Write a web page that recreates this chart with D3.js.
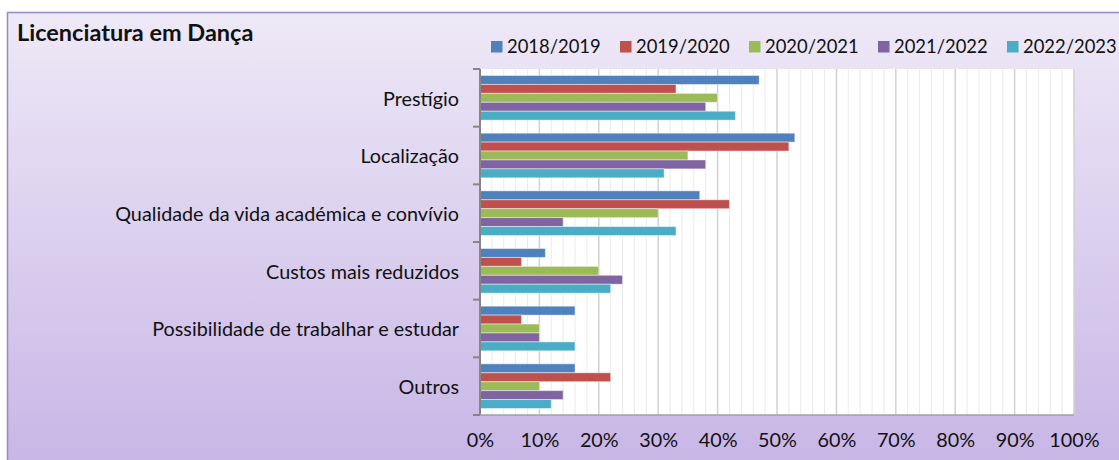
<!DOCTYPE html>
<html>
<head>
<meta charset="utf-8">
<script src="https://cdn.jsdelivr.net/npm/d3@7"></script>
<style>
  body { margin: 0; background: #fff; }
  text { font-family: Lato, "Open Sans", sans-serif; fill: #111; }
</style>
</head>
<body>
<div id="chart"></div>
<script>
var categories = ["Prestígio", "Localização", "Qualidade da vida académica e convívio",
    "Custos mais reduzidos", "Possibilidade de trabalhar e estudar", "Outros"];
var years = ["2018/2019", "2019/2020", "2020/2021", "2021/2022", "2022/2023"];
var colors = ["#4f81bd", "#c0504d", "#9bbb59", "#8064a2", "#4bacc6"];
// one array per year, in category order (percent)
var v2018 = [47, 53, 37, 11, 16, 16];
var v2019 = [33, 52, 42, 7, 7, 22];
var v2020 = [40, 35, 30, 20, 10, 10];
var v2021 = [38, 38, 14, 24, 10, 14];
var v2022 = [43, 31, 33, 22, 16, 12];
var series = [v2018, v2019, v2020, v2021, v2022];
var xTicks = [0, 10, 20, 30, 40, 50, 60, 70, 80, 90, 100];

var width = 1119, height = 460;
var plotLeft = 480, plotRight = 1074, plotTop = 69, plotBottom = 415;
var labelSize = "19.8px";

var svg = d3.select("#chart").append("svg")
    .attr("width", width)
    .attr("height", height);

var defs = svg.append("defs");
var grad = defs.append("linearGradient")
    .attr("id", "bg")
    .attr("x1", 0).attr("y1", 0).attr("x2", 0).attr("y2", 1);
grad.append("stop").attr("offset", "0%").attr("stop-color", "#eee9f7");
grad.append("stop").attr("offset", "100%").attr("stop-color", "#c7b5e6");

// chart frame
svg.append("rect")
    .attr("x", 7.5).attr("y", 12.5)
    .attr("width", width).attr("height", height)
    .style("fill", "url(#bg)")
    .style("stroke", "#9c88bd")
    .style("stroke-width", 1.5);

var x = d3.scaleLinear().domain([0, 100]).range([plotLeft, plotRight]);
var y = d3.scaleBand().domain(categories).range([plotTop, plotBottom]);
var inner = d3.scaleBand().domain(years)
    .range([0, y.bandwidth()]).paddingOuter(0.73).paddingInner(0);

// plot area
svg.append("rect")
    .attr("x", plotLeft).attr("y", plotTop)
    .attr("width", plotRight - plotLeft).attr("height", plotBottom - plotTop)
    .style("fill", "#fff");

// minor grid every 2%
svg.append("g").selectAll("line")
    .data(d3.range(2, 100, 2).filter(function(d) { return d % 10 != 0; }))
    .enter().append("line")
    .attr("x1", function(d) { return x(d); })
    .attr("x2", function(d) { return x(d); })
    .attr("y1", plotTop).attr("y2", plotBottom)
    .style("stroke", "#ebebeb")
    .style("stroke-width", 1);

// major grid
svg.append("g").selectAll("line")
    .data(xTicks.slice(1))
    .enter().append("line")
    .attr("x1", function(d) { return x(d); })
    .attr("x2", function(d) { return x(d); })
    .attr("y1", plotTop).attr("y2", plotBottom)
    .style("stroke", "#d2d2d2")
    .style("stroke-width", 1.5);

// bars
var groups = svg.append("g").selectAll("g")
    .data(series)
    .enter().append("g")
    .style("fill", function(d, i) { return colors[i]; });
groups.selectAll("rect")
    .data(function(d, i) {
        return d.map(function(v, j) { return { cat: categories[j], year: years[i], value: v }; });
    })
    .enter().append("rect")
    .attr("x", x(0))
    .attr("y", function(d) { return y(d.cat) + inner(d.year); })
    .attr("width", function(d) { return x(d.value) - x(0); })
    .attr("height", inner.bandwidth())
    .style("stroke", "rgba(255,255,255,0.45)")
    .style("stroke-width", 1);

// y axis
var yAxis = d3.axisLeft(y).tickSize(0).tickPadding(21);
var gy = svg.append("g")
    .attr("transform", "translate(" + plotLeft + ",0)")
    .call(yAxis);
gy.select(".domain").remove();
gy.selectAll("text").style("font-size", labelSize).attr("dy", "0.4em");
svg.append("line")
    .attr("x1", plotLeft).attr("x2", plotLeft)
    .attr("y1", plotTop).attr("y2", plotBottom)
    .style("stroke", "#868686").style("stroke-width", 2);
svg.append("g").selectAll("line")
    .data(d3.range(categories.length + 1))
    .enter().append("line")
    .attr("x1", plotLeft - 7).attr("x2", plotLeft)
    .attr("y1", function(d) { return plotTop + d * y.step(); })
    .attr("y2", function(d) { return plotTop + d * y.step(); })
    .style("stroke", "#868686").style("stroke-width", 2);

// x axis
var xAxis = d3.axisBottom(x).tickValues(xTicks)
    .tickFormat(function(d) { return d + "%"; })
    .tickSize(0).tickPadding(18);
var gx = svg.append("g")
    .attr("transform", "translate(0," + plotBottom + ")")
    .call(xAxis);
gx.select(".domain").remove();
gx.selectAll("text").style("font-size", labelSize);
svg.append("line")
    .attr("x1", plotLeft).attr("x2", plotRight)
    .attr("y1", plotBottom).attr("y2", plotBottom)
    .style("stroke", "#a0a0a0").style("stroke-width", 1.5);

// title
svg.append("text")
    .attr("x", 17).attr("y", 41)
    .style("font-weight", "bold")
    .style("font-size", "23.5px")
    .text("Licenciatura em Dança");

// legend
var legend = svg.append("g").selectAll("g")
    .data(years)
    .enter().append("g")
    .attr("transform", function(d, i) { return "translate(" + (491 + i * 129) + ",41)"; });
legend.append("rect")
    .attr("width", 11.5).attr("height", 11.5)
    .style("fill", function(d, i) { return colors[i]; });
legend.append("text")
    .attr("x", 16).attr("y", 12.3)
    .style("font-size", "18.4px")
    .text(function(d) { return d; });
</script>
</body>
</html>
